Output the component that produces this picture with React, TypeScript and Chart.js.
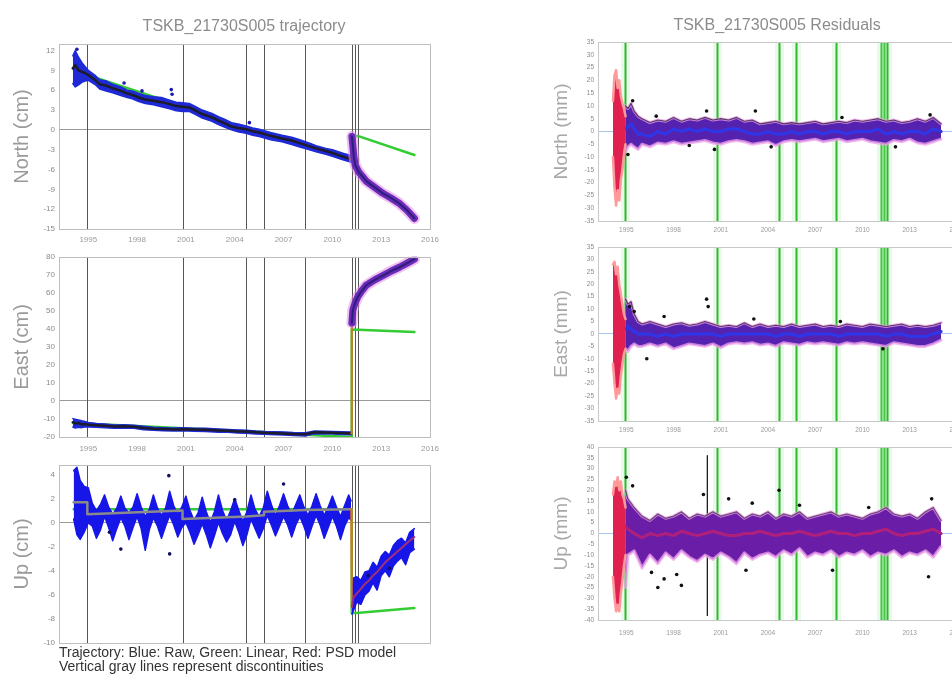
import React, { useEffect, useRef } from 'react';
import { Chart, registerables } from 'chart.js';
Chart.register(...registerables);

const FONT = "'Liberation Sans', Arial, sans-serif";

// ---------- shared axes ----------
const xTickYears = [1995, 1998, 2001, 2004, 2007, 2010, 2013, 2016];
const discontinuities = [1994.94, 2000.79, 2004.72, 2005.8, 2008.34, 2011.19, 2011.38, 2011.56];
const northTicksCm = [-15, -12, -9, -6, -3, 0, 3, 6, 9, 12];
const eastTicksCm = [-20, -10, 0, 10, 20, 30, 40, 50, 60, 70, 80];
const upTicksCm = [-10, -8, -6, -4, -2, 0, 2, 4];
const resTicks35 = [-35, -30, -25, -20, -15, -10, -5, 0, 5, 10, 15, 20, 25, 30, 35];
const resTicks40 = [-40, -35, -30, -25, -20, -15, -10, -5, 0, 5, 10, 15, 20, 25, 30, 35, 40];

// ---------- North trajectory (cm) ----------
const nRawT = [1994.05, 1994.2, 1994.4, 1994.6, 1994.8, 1995.0, 1995.4, 1995.7, 1996.1, 1996.5, 1997.0, 1997.4, 1997.7, 1998.1, 1998.5, 1999.0, 1999.5, 2000.0, 2000.4, 2000.8, 2001.2, 2001.6, 2002.0, 2002.6, 2003.0, 2003.4, 2003.8, 2004.2, 2004.7, 2005.1, 2005.5, 2006.2, 2006.9, 2007.5, 2008.0, 2008.6, 2009.0, 2009.6, 2010.0, 2010.6, 2011.16];
const nRawHi = [11.2, 12.0, 11.0, 10.2, 9.6, 9.0, 8.3, 7.6, 7.4, 6.9, 6.5, 6.0, 5.9, 5.5, 5.2, 5.0, 4.9, 4.5, 4.2, 4.1, 4.0, 3.5, 3.0, 2.5, 2.0, 1.6, 1.1, 0.9, 0.6, 0.3, 0.1, -0.4, -0.8, -1.1, -1.5, -2.0, -2.4, -2.8, -3.0, -3.5, -3.9];
const nRawLo = [7.0, 6.5, 6.8, 7.2, 7.4, 7.5, 6.9, 6.2, 5.9, 5.6, 5.2, 4.9, 4.7, 4.3, 4.0, 3.8, 3.5, 3.2, 2.9, 2.8, 2.8, 2.3, 1.8, 1.3, 0.8, 0.4, 0.0, -0.3, -0.5, -0.8, -1.0, -1.5, -1.8, -2.2, -2.6, -3.0, -3.3, -3.7, -4.0, -4.5, -4.9];
const nRawMid = [9.3, 9.8, 9.0, 8.8, 8.6, 8.3, 7.6, 6.9, 6.7, 6.3, 5.9, 5.5, 5.3, 4.9, 4.6, 4.4, 4.2, 3.9, 3.6, 3.5, 3.4, 2.9, 2.4, 1.9, 1.4, 1.0, 0.5, 0.3, 0.1, -0.2, -0.4, -0.9, -1.3, -1.6, -2.0, -2.5, -2.8, -3.2, -3.5, -4.0, -4.45];
const nOutT = [1994.3, 1997.2, 1998.3, 2000.1, 2000.15, 2004.9];
const nOut = [12.2, 7.1, 5.9, 6.1, 5.4, 1.1];
const nPostT = [2011.2, 2011.25, 2011.32, 2011.4, 2011.6, 2011.9, 2012.1, 2012.6, 2013.1, 2013.6, 2014.1, 2014.6, 2015.04];
const nPost = [-1.0, -2.2, -4.0, -5.3, -6.3, -7.2, -7.8, -8.7, -9.6, -10.3, -11.1, -12.2, -13.4];
const nJumpT = [2011.16, 2011.19];
const nJump = [-4.45, -1.0];
const nLinT = [1994.05, 1994.94, 1994.94, 2000.79, 2000.79, 2004.72, 2004.72, 2008.34, 2008.34, 2011.16, 2011.17, 2011.2, 2011.56, 2015.04];
const nLin = [9.4, 8.4, 8.3, 3.6, 3.5, 0.2, 0.1, -2.3, -2.3, -4.4, null, -1.2, -0.9, -3.8];

// ---------- East trajectory (cm) ----------
const eRawT = [1994.05, 1994.2, 1994.4, 1994.6, 1994.8, 1995.0, 1995.5, 1996.0, 1996.6, 1997.2, 1997.8, 1998.4, 1999.0, 1999.6, 2000.2, 2000.8, 2001.5, 2002.2, 2003.0, 2003.6, 2004.2, 2004.7, 2005.3, 2005.8, 2006.5, 2007.0, 2007.6, 2008.34, 2008.9, 2009.5, 2010.0, 2010.6, 2011.16];
const eMid = [-11.8, -12.5, -12.2, -13.0, -12.8, -13.2, -13.5, -13.8, -14.2, -14.0, -14.3, -15.0, -15.4, -15.6, -15.8, -15.7, -15.9, -16.0, -16.4, -16.6, -16.9, -17.0, -17.4, -17.7, -17.9, -18.0, -18.3, -18.5, -17.4, -17.5, -17.6, -17.8, -18.0];
const eHi = [-9.8, -10.2, -10.5, -11.0, -11.4, -12.0, -12.5, -12.8, -13.3, -13.2, -13.5, -14.1, -14.6, -14.8, -15.0, -14.9, -15.1, -15.2, -15.6, -15.9, -16.1, -16.2, -16.7, -17.0, -17.1, -17.2, -17.5, -17.6, -16.7, -16.8, -16.9, -17.1, -17.2];
const eLo = [-14.5, -15.0, -14.6, -14.8, -14.5, -14.5, -14.6, -14.9, -15.2, -15.0, -15.2, -16.0, -16.3, -16.5, -16.7, -16.6, -16.8, -16.9, -17.3, -17.4, -17.8, -17.9, -18.3, -18.5, -18.8, -18.9, -19.2, -19.4, -18.2, -18.3, -18.4, -18.6, -18.8];
const ePostT = [2011.2, 2011.26, 2011.4, 2011.56, 2011.8, 2012.08, 2012.6, 2013.1, 2013.6, 2014.12, 2014.6, 2015.04];
const ePost = [43.3, 50.5, 54.5, 57.8, 61.0, 64.2, 67.2, 69.6, 72.0, 74.2, 76.5, 78.7];
const eJumpT = [2011.16, 2011.19];
const eJump = [-18.0, 43.3];
const eLinT = [1994.05, 2008.34, 2008.34, 2011.19, 2011.19, 2015.04];
const eLin = [-12.2, -18.3, -18.8, -20.0, 39.6, 38.2];

// ---------- Up trajectory (cm) ----------
const uRawT = [1994.1, 1994.3, 1994.5, 1994.75,
  1995.0, 1995.25, 1995.5, 1995.75, 1996.0, 1996.25, 1996.5, 1996.75, 1997.0, 1997.25, 1997.5, 1997.75,
  1998.0, 1998.25, 1998.5, 1998.75, 1999.0, 1999.25, 1999.5, 1999.75, 2000.0, 2000.25, 2000.5, 2000.75,
  2001.0, 2001.25, 2001.5, 2001.75, 2002.0, 2002.25, 2002.5, 2002.75, 2003.0, 2003.25, 2003.5, 2003.75,
  2004.0, 2004.25, 2004.5, 2004.75, 2005.0, 2005.25, 2005.5, 2005.75, 2006.0, 2006.25, 2006.5, 2006.75,
  2007.0, 2007.25, 2007.5, 2007.75, 2008.0, 2008.25, 2008.5, 2008.75, 2009.0, 2009.25, 2009.5, 2009.75,
  2010.0, 2010.25, 2010.5, 2010.75, 2011.0, 2011.15];
const uRawHi = [4.3, 4.6, 3.5, 3.0,
  2.9, 1.6, 1.0, 1.5, 2.3, 1.3, 0.7, 1.2, 2.2, 1.2, 0.8, 1.3,
  2.4, 1.3, 0.5, 1.1, 2.3, 1.2, 0.6, 1.2, 2.6, 1.4, 0.7, 1.3,
  2.2, 1.0, 0.2, 0.8, 2.1, 0.9, 0.0, 0.9, 2.3, 1.0, 0.2, 1.0,
  2.0, 1.0, 0.1, 0.9, 2.3, 1.1, 0.5, 1.2, 2.6, 1.5, 0.6, 1.4,
  2.4, 1.4, 0.7, 1.5, 2.3, 1.3, 0.6, 1.4, 2.4, 1.4, 0.6, 1.3,
  2.2, 1.3, 0.5, 1.4, 2.3, 1.8];
const uRawLo = [0.3, -1.0, -1.4, -0.8,
  0.0, -0.3, -1.3, -0.6, 0.5, -0.4, -1.5, -0.5, 0.4, -0.3, -1.4, -0.4,
  0.5, -0.5, -2.3, -0.6, 0.4, -0.3, -1.3, -0.3, 0.6, -0.2, -1.2, -0.4,
  0.0, -0.8, -1.8, -1.0, -0.1, -1.0, -2.1, -1.1, 0.0, -0.9, -1.6, -1.0,
  0.1, -0.8, -1.9, -1.0, 0.3, -0.5, -1.3, -0.5, 0.6, -0.2, -1.1, -0.3,
  0.5, -0.2, -1.2, -0.2, 0.5, -0.3, -1.3, -0.3, 0.6, -0.2, -1.3, -0.4,
  0.5, -0.3, -1.4, -0.3, 0.4, 0.2];
const uModelT = [1994.1, 1994.94, 1994.94, 2000.79, 2000.79, 2004.72, 2004.72, 2005.8, 2005.8, 2008.34, 2008.34, 2011.16];
const uModel = [1.7, 1.7, 0.7, 1.0, 0.3, 0.5, 0.5, 0.6, 0.9, 1.05, 1.05, 1.1];
const uOutT = [1996.3, 1997.0, 1999.95, 2000.0, 2004.0, 2007.0, 2012.2, 2013.5];
const uOut = [-0.8, -2.2, 3.9, -2.6, 1.9, 3.2, -4.4, -3.8];
const uPostT = [2011.2, 2011.3, 2011.5, 2011.75, 2012.0, 2012.25, 2012.5, 2012.75, 2013.0, 2013.25, 2013.5, 2013.75, 2014.0, 2014.25, 2014.5, 2014.75, 2015.04];
const uPostHi = [-6.0, -4.6, -4.5, -4.8, -4.1, -4.0, -3.3, -3.7, -2.8, -2.4, -2.7, -1.9, -1.5, -1.3, -1.7, -0.8, -0.5];
const uPostLo = [-7.6, -7.3, -6.6, -6.8, -6.0, -5.7, -5.0, -5.6, -4.4, -4.0, -4.5, -3.6, -3.2, -2.9, -3.5, -2.5, -2.2];
const uPsd = [-7.0, -6.2, -5.9, -5.5, -5.1, -4.8, -4.4, -4.1, -3.7, -3.3, -3.0, -2.7, -2.4, -2.1, -1.8, -1.5, -1.2];
const uJumpT = [2011.16, 2011.19];
const uJump = [1.1, -7.0];
const uLinT = [1994.1, 2011.19, 2011.19, 2011.5, 2015.04];
const uLin = [1.1, 1.1, -7.5, -7.5, -7.1];

// ---------- Residuals (mm) ----------
const resRedT = [1994.15, 1994.25, 1994.35, 1994.45, 1994.55, 1994.65, 1994.75, 1994.85, 1994.95];
const resT = [1994.95, 1995.1, 1995.3, 1995.5, 1995.75,
  1996.0, 1996.5, 1997.0, 1997.5, 1998.0, 1998.5, 1999.0, 1999.5, 2000.0, 2000.5, 2001.0, 2001.5, 2002.0,
  2002.5, 2003.0, 2003.5, 2004.0, 2004.5, 2005.0, 2005.5, 2006.0, 2006.5, 2007.0, 2007.5, 2008.0, 2008.5,
  2009.0, 2009.5, 2010.0, 2010.5, 2011.0, 2011.5, 2012.0, 2012.5, 2013.0, 2013.5, 2014.0, 2014.5, 2015.0];

const rnRedHi = [12, 22, 24, 17, 20, 14, 11, 9, 6];
const rnRedLo = [-10, -22, -29, -23, -27, -19, -15, -9, -5];
const rnHi = [10, 9, 11, 8, 6,
  5, 3.5, 4.5, 4, 5.5, 4, 5, 4.5, 5.5, 4.5, 5, 4.5, 5.5,
  4, 4.5, 3, 3.5, 4, 3, 3.5, 3, 3.5, 4, 3, 3.5, 4,
  3.5, 4.5, 4, 4.5, 5, 4, 4.5, 3.5, 4, 5, 4, 5.5, 3];
const rnLo = [-8, -6, -5, -6, -7,
  -5, -6, -4.5, -5, -4, -5, -4.5, -4, -3.5, -4.5, -5, -4, -3.5,
  -4, -5, -4.5, -4, -5.5, -4, -3.5, -4, -3.5, -3, -4, -3.5, -3,
  -4, -3.5, -3, -4, -4.5, -5, -3.5, -4, -3, -4.5, -5, -4, -3];
const rnMid = [1, 2, 3, 1, -1,
  -1, -2, 0, -1, 1, 0, 1, 0, 1, 0, 0, 1, 1,
  0, -1, -1, 0, -1, -1, 0, -1, 0, 0, -1, 0, 0,
  -1, 0, 0, 0, 1, -1, 0, -1, 0, 0, -1, 1, 0];
const rnOutT = [1995.1, 1995.4, 1996.9, 1999.0, 2000.1, 2000.6, 2003.2, 2004.2, 2008.7, 2012.1, 2014.3];
const rnOut = [-9, 12, 6, -5.5, 8, -7, 8, -6, 5.5, -6, 6.5];

const reRedHi = [28, 29, 24, 27, 20, 16, 12, 8, 6];
const reRedLo = [-12, -20, -26, -22, -24, -17, -12, -8, -6];
const reHi = [14, 12, 13, 8, 5,
  4, 5, 4, 3, 4, 4.5, 3.5, 4, 5, 4, 3, 3.5, 3,
  4.5, 3, 4, 3, 3.5, 3, 4, 3, 3.5, 4, 3, 3.5, 3,
  4, 3.5, 3, 4, 3.5, 3, 3.5, 4, 3, 3.5, 3, 3.5, 4.5];
const reLo = [-6, -7, -5, -4, -5,
  -5, -4, -5, -4, -6, -5, -4, -4.5, -5, -4, -5.5, -4, -3.5,
  -4, -3.5, -4.5, -4, -5, -3.5, -4, -4.5, -3.5, -4, -3.5, -4, -4.5,
  -3.5, -4, -3.5, -4, -4.5, -5, -3.5, -4, -4.5, -5, -5, -4, -2.5];
const reMid = [2, 3, 2, 1, 0,
  0, 0, -1, 0, -1, 0, 0, 0, 0, 0, -1, 0, 0,
  0, 0, 0, 0, -1, 0, 0, -1, 0, 0, 0, 0, -1,
  0, 0, 0, 0, 0, -1, 0, 0, -1, -1, -1, 0, 1];
const reOutT = [1995.2, 1995.5, 1996.3, 1997.4, 2000.1, 2000.2, 2003.1, 2008.6, 2011.3];
const reOut = [11, 9, -10, 7, 14, 11, 6, 5, -6];

const ruRedHi = [18, 24, 22, 26, 20, 24, 18, 16, 12];
const ruRedLo = [-20, -30, -36, -33, -36, -28, -22, -15, -10];
const ruHi = [20, 16, 14, 12, 10,
  8, 6, 9, 7, 8, 10, 7, 9, 8, 10, 8, 9, 10,
  7, 9, 8, 10, 7, 9, 8, 10, 7, 8, 9, 10, 8,
  9, 8, 7, 9, 10, 12, 9, 8, 9, 7, 10, 12, 6];
const ruLo = [-25, -10, -9, -8, -12,
  -16, -10, -14, -9, -12, -8, -11, -13, -10, -12, -9, -11, -14,
  -9, -12, -10, -9, -11, -8, -10, -7, -11, -9, -10, -8, -11,
  -9, -10, -8, -11, -9, -10, -8, -11, -9, -10, -8, -11, -6];
const ruMid = [3, 2, 1, 0, -1,
  -2, 0, -1, 0, -1, 1, 0, -1, 0, 1, 0, -1, -1,
  0, 0, 1, 0, -1, 0, 0, 1, 0, -1, 0, 1, 0,
  0, -1, 0, 0, 1, 2, 0, -1, 0, 0, 1, 2, 0];
const ruOutT = [1995.0, 1995.4, 1996.6, 1997.0, 1997.4, 1998.2, 1998.5, 1999.9, 2001.5, 2002.6, 2003.0, 2004.7, 2006.0, 2008.1, 2010.4, 2014.2, 2014.4];
const ruOut = [26, 22, -18, -25, -21, -19, -24, 18, 16, -17, 14, 20, 13, -17, 12, -20, 16];
const ruBarT = [2000.15, 2000.15];
const ruBar = [36, -38];

// ---------- dataset helpers ----------
const P = (t: number[], v: (number | null)[]) => t.map((x, i) => ({ x, y: v[i] }));
const ln = (t: number[], v: (number | null)[], color: string, width: number, more: any = {}) => ({
  data: P(t, v), borderColor: color, borderWidth: width, pointRadius: 0, fill: false, tension: 0,
  borderJoinStyle: 'round', borderCapStyle: 'round', ...more,
});
const band = (t: number[], hi: number[], lo: number[], fillColor: string, edge: string, edgeW: number) => [
  ln(t, hi, edge, edgeW, { fill: '+1', backgroundColor: fillColor }),
  ln(t, lo, edge, edgeW),
];
const dots = (t: number[], v: number[], color: string, r: number) => ({
  data: P(t, v), showLine: false, pointRadius: r, pointBackgroundColor: color,
  pointBorderColor: color, pointBorderWidth: 0, borderColor: color,
});

const vlinePlugin = (values: number[], color: string, width: number, halo?: string, haloW?: number) => ({
  id: 'vlines',
  beforeDatasetsDraw(chart: any) {
    const { ctx, chartArea: a, scales } = chart;
    const x = scales.x;
    ctx.save();
    ctx.beginPath();
    ctx.rect(a.left, a.top, a.right - a.left, a.bottom - a.top);
    ctx.clip();
    for (const v of values) {
      const px = Math.round(x.getPixelForValue(v)) + 0.5;
      if (halo) {
        ctx.strokeStyle = halo; ctx.lineWidth = haloW;
        ctx.beginPath(); ctx.moveTo(px, a.top); ctx.lineTo(px, a.bottom); ctx.stroke();
      }
      ctx.strokeStyle = color; ctx.lineWidth = width;
      ctx.beginPath(); ctx.moveTo(px, a.top); ctx.lineTo(px, a.bottom); ctx.stroke();
    }
    ctx.restore();
  },
});
const framePlugin = (color: string) => ({
  id: 'frame',
  afterDatasetsDraw(chart: any) {
    const { ctx, chartArea: a } = chart;
    ctx.save();
    ctx.strokeStyle = color; ctx.lineWidth = 1;
    ctx.strokeRect(Math.round(a.left) + 0.5, Math.round(a.top) + 0.5, Math.round(a.right - a.left), Math.round(a.bottom - a.top));
    ctx.restore();
  },
});

// ---------- panel specs ----------
const LEFT = { left: 0, w: 488, xMin: 1993.2, xMax: 2016, yWidth: 59, y2Width: 58, tickSize: 8, yTitleSize: 20, yTitlePad: 10, yTitleColor: '#9a9a9a', zeroColor: '#9a9a9a', frameColor: '#bdbdbd', vColor: '#555555', vWidth: 1 };
const RIGHT = { left: 530, w: 494, xMin: 1993.2, xMax: 2016.2, yWidth: 68, y2Width: 64, tickSize: 6.5, yTitleSize: 19, yTitlePad: 20.3, yTitleColor: '#a8a8a8', zeroColor: '#a9c4ee', frameColor: '#c8c8c8', vColor: '#2fb82f', vWidth: 2, vHalo: 'rgba(150,235,150,0.22)', vHaloW: 9 };

const BLUE = '#1f2ad6';
const PURPLE = '#6c2ab8';
const GREEN = '#33cc33';
const HALO = 'rgba(240,160,236,0.75)';

const specs: any[] = [
  {
    ...LEFT, key: 'ln', top: 0, h: 248, padTop: 0,
    title: 'TSKB_21730S005 trajectory', titlePadTop: 17.4, titlePadBottom: 7.4,
    yMin: -15, yMax: 13, yTicks: northTicksCm, yTitle: 'North (cm)', xHeight: 19, xPad: 6, showX: true,
    datasets: [
      ln(nLinT, nLin, GREEN, 2.5),
      ...band(nRawT, nRawHi, nRawLo, BLUE, BLUE, 1.5),
      ln(nRawT, nRawMid, '#1c1c2a', 2.5),
      ln(nJumpT, nJump, '#e0702a', 2),
      ln(nPostT, nPost, 'rgba(225,140,230,0.55)', 11),
      ln(nPostT, nPost, PURPLE, 7),
      ln(nPostT, nPost, '#2a1f7a', 2),
      dots(nOutT, nOut, '#1a1ab0', 1.8),
    ],
  },
  {
    ...LEFT, key: 'le', top: 248, h: 208, padTop: 5,
    yMin: -20, yMax: 80, yTicks: eastTicksCm, yTitle: 'East (cm)', xHeight: 19, xPad: 7, showX: true,
    datasets: [
      ln(eLinT, eLin, GREEN, 2.5),
      ...band(eRawT, eHi, eLo, BLUE, BLUE, 1.5),
      ln(eRawT, eMid, '#1c1c2a', 2.5),
      ln(eJumpT, eJump, '#e0702a', 2),
      ln(ePostT, ePost, 'rgba(225,140,230,0.55)', 11),
      ln(ePostT, ePost, PURPLE, 7),
      ln(ePostT, ePost, '#2a1f7a', 2),
    ],
  },
  {
    ...LEFT, key: 'lu', top: 456, h: 226, padTop: 7,
    yMin: -10, yMax: 4.8, yTicks: upTicksCm, yTitle: 'Up (cm)', xHeight: 39, xPad: 6, showX: false,
    xTitle: ['Trajectory: Blue: Raw, Green: Linear, Red: PSD model', 'Vertical gray lines represent discontinuities'],
    datasets: [
      ln(uLinT, uLin, GREEN, 2.5),
      ...band(uRawT, uRawHi, uRawLo, '#1616e8', '#1616e8', 1.5),
      ln(uModelT, uModel, '#8a8a8a', 2.5),
      ...band(uPostT, uPostHi, uPostLo, '#1616e8', '#1616e8', 1.5),
      ln(uJumpT, uJump, '#e0702a', 2),
      ln(uPostT, uPsd, '#a0307a', 2),
      dots(uOutT, uOut, '#101060', 1.8),
    ],
  },
  {
    ...RIGHT, key: 'rn', top: 0, h: 239, padTop: 0,
    title: 'TSKB_21730S005 Residuals', titlePadTop: 16.4, titlePadBottom: 6.4,
    yMin: -35, yMax: 35, yTicks: resTicks35, yTitle: 'North (mm)', xHeight: 18, xPad: 5, showX: true,
    datasets: [
      ...band(resT, rnHi, rnLo, '#5522b0', HALO, 3),
      ln(resT, rnHi, 'rgba(25,20,40,0.7)', 1.2),
      ln(resT, rnMid, '#2f36e8', 3),
      ...band(resRedT, rnRedHi, rnRedLo, '#e0204f', '#ff9a9a', 2.5),
      dots(rnOutT, rnOut, '#111111', 1.8),
    ],
  },
  {
    ...RIGHT, key: 're', top: 239, h: 200, padTop: 6,
    yMin: -35, yMax: 35, yTicks: resTicks35, yTitle: 'East (mm)', xHeight: 18, xPad: 5, showX: true,
    datasets: [
      ...band(resT, reHi, reLo, '#5522b0', HALO, 3),
      ln(resT, reHi, 'rgba(25,20,40,0.7)', 1.2),
      ln(resT, reMid, '#2f36e8', 3),
      ...band(resRedT, reRedHi, reRedLo, '#e0204f', '#ff9a9a', 2.5),
      dots(reOutT, reOut, '#111111', 1.8),
    ],
  },
  {
    ...RIGHT, key: 'ru', top: 439, h: 202, padTop: 5,
    yMin: -40, yMax: 40, yTicks: resTicks40, yTitle: 'Up (mm)', xHeight: 21, xPad: 9, showX: true,
    datasets: [
      ln(ruBarT, ruBar, '#222222', 1),
      ...band(resT, ruHi, ruLo, '#6a1ea8', HALO, 3),
      ln(resT, ruHi, 'rgba(25,20,40,0.6)', 1.2),
      ln(resT, ruMid, '#b0207a', 3),
      ...band(resRedT, ruRedHi, ruRedLo, '#e0204f', '#ff9a9a', 2.5),
      dots(ruOutT, ruOut, '#111111', 1.8),
    ],
  },
];

function buildConfig(s: any) {
  const tickFont = { family: FONT, size: s.tickSize };
  const tickColor = '#8a8a8a';
  return {
    type: 'line',
    data: { datasets: s.datasets.map((d: any, i: number, a: any[]) => ({ ...d, order: a.length - i })) },
    options: {
      responsive: false,
      animation: false,
      events: [],
      layout: { padding: { top: s.padTop, left: 0, right: 0, bottom: 0 } },
      plugins: {
        legend: { display: false },
        tooltip: { enabled: false },
        title: s.title
          ? { display: true, text: s.title, color: '#8c8c8c', font: { family: FONT, size: 16, weight: 'normal' }, padding: { top: s.titlePadTop, bottom: s.titlePadBottom } }
          : { display: false },
      },
      scales: {
        x: {
          type: 'linear', min: s.xMin, max: s.xMax,
          afterBuildTicks: (sc: any) => { sc.ticks = xTickYears.map((v) => ({ value: v })); },
          ticks: { display: s.showX, font: tickFont, color: '#9a9a9a', padding: s.xPad, maxRotation: 0, autoSkip: false, callback: (v: any) => String(v) },
          grid: { display: false, drawTicks: false },
          border: { display: false },
          title: s.xTitle
            ? { display: true, text: s.xTitle, align: 'start', color: '#333333', font: { family: FONT, size: 14, lineHeight: 1 }, padding: { top: 0, bottom: 8.3 } }
            : { display: false },
          afterFit: (sc: any) => { sc.height = s.xHeight; },
        },
        y: {
          type: 'linear', position: 'left', min: s.yMin, max: s.yMax,
          afterBuildTicks: (sc: any) => { sc.ticks = s.yTicks.map((v: number) => ({ value: v })); },
          ticks: { font: tickFont, color: tickColor, padding: 4, autoSkip: false, callback: (v: any) => String(v) },
          grid: { drawTicks: false, lineWidth: 1, color: (c: any) => (c.tick && c.tick.value === 0 ? s.zeroColor : 'rgba(0,0,0,0)') },
          border: { display: false },
          title: { display: true, text: s.yTitle, color: s.yTitleColor, font: { family: FONT, size: s.yTitleSize }, padding: { top: s.yTitlePad, bottom: 0 } },
          afterFit: (sc: any) => { sc.width = s.yWidth; },
        },
        y2: {
          type: 'linear', position: 'right', min: s.yMin, max: s.yMax,
          ticks: { display: false },
          grid: { display: false, drawTicks: false },
          border: { display: false },
          afterFit: (sc: any) => { sc.width = s.y2Width; },
        },
      },
    },
    plugins: [vlinePlugin(discontinuities, s.vColor, s.vWidth, s.vHalo, s.vHaloW), framePlugin(s.frameColor)],
  };
}

function ChartPanel({ spec }: { spec: any }) {
  const ref = useRef<HTMLCanvasElement | null>(null);
  useEffect(() => {
    const chart = new Chart(ref.current as HTMLCanvasElement, buildConfig(spec) as any);
    return () => chart.destroy();
  }, [spec]);
  return (
    <canvas
      ref={ref}
      width={spec.w}
      height={spec.h}
      style={{ position: 'absolute', left: spec.left, top: spec.top, width: spec.w, height: spec.h }}
    />
  );
}

export default function App() {
  return (
    <div style={{ position: 'fixed', left: 0, top: 0, width: 952, height: 682, overflow: 'hidden', background: '#ffffff' }}>
      {specs.map((s) => (
        <ChartPanel key={s.key} spec={s} />
      ))}
    </div>
  );
}
